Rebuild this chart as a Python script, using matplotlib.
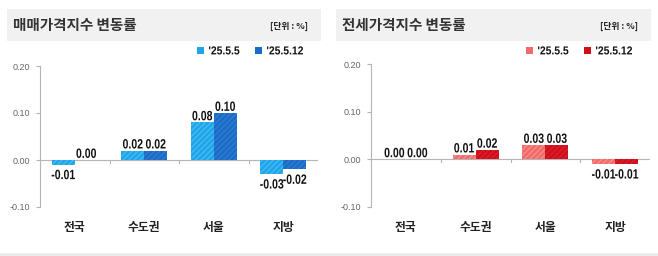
import numpy as np
import matplotlib.pyplot as plt
from matplotlib.patches import Rectangle, PathPatch
from matplotlib.textpath import TextPath
from matplotlib.font_manager import FontProperties
from matplotlib.transforms import Affine2D, ScaledTranslation

plt.rcParams['hatch.linewidth'] = 0.6

categories = ['전국', '수도권', '서울', '지방']
series_names = ["'25.5.5", "'25.5.12"]
sale_may5 = [-0.01, 0.02, 0.08, -0.03]
sale_may12 = [0.00, 0.02, 0.10, -0.02]
jeonse_may5 = [0.00, 0.01, 0.03, -0.01]
jeonse_may12 = [0.00, 0.02, 0.03, -0.01]
yticks = [-0.10, 0.00, 0.10, 0.20]

W, H = 658, 256
kr_font = ['Noto Sans CJK KR', 'DejaVu Sans']
bold_prop = FontProperties(family='Liberation Sans', weight='bold')

fig = plt.figure(figsize=(W / 100, H / 100), dpi=100)
fig.patch.set_facecolor('white')


def px(x0, y0, x1, y1):
    # pixel box (top-left origin) -> figure fraction rect
    return [x0 / W, 1 - y1 / H, (x1 - x0) / W, (y1 - y0) / H]


def narrow_text(owner, trans, x, y, s, size, ha='center', va='bottom', gap=0,
                xscale=0.78, color='#111111'):
    # condensed bold text (like Arial Narrow) drawn as a squeezed path, units = pixels
    tp = TextPath((0, 0), s, size=size, prop=bold_prop)
    bb = tp.get_extents()
    if ha == 'center':
        dx = -(bb.x0 + bb.width / 2)
    elif ha == 'left':
        dx = -bb.x0
    else:
        dx = -bb.x1
    if va == 'bottom':
        dy = -bb.y0 + gap
    elif va == 'top':
        dy = -bb.y1 - gap
    else:
        dy = -(bb.y0 + bb.height / 2)
    tr = Affine2D().translate(dx, dy).scale(xscale, 1) + ScaledTranslation(x, y, trans)
    p = PathPatch(tp, transform=tr, facecolor=color, edgecolor='none', clip_on=False)
    owner.add_artist(p)


# bottom gray strip
fig.add_artist(Rectangle((0, 0), 1, 3.5 / H, transform=fig.transFigure,
                         facecolor='#ececec', edgecolor='none'))


def panel(x0, x1, top, bottom, title, bar_x0, bar_x1, v1, v2, c1, c1h, c2, c2h, leg_x):
    # title bar
    fig.add_artist(Rectangle((bar_x0 / W, 1 - 41 / H), (bar_x1 - bar_x0) / W, 32 / H,
                             transform=fig.transFigure, facecolor='#f1f1f1',
                             edgecolor='none'))
    fig.text((bar_x0 + 6) / W, 1 - 25 / H, title, fontsize=10.5, fontweight='bold',
             color='#333333', family=kr_font, va='center', ha='left')
    fig.text((bar_x1 - 13) / W, 1 - 26 / H, '[단위 : %]', fontsize=6.3,
             fontweight='bold', color='#222222', family=kr_font, va='center', ha='right')
    # legend
    for i, (name, col) in enumerate(zip(series_names, [c1, c2])):
        lx = leg_x[i]
        fig.add_artist(Rectangle((lx / W, 1 - 54 / H), 7 / W, 7 / H,
                                 transform=fig.transFigure, facecolor=col,
                                 edgecolor='none'))
        narrow_text(fig, fig.transFigure, (lx + 12) / W, 1 - 54.5 / H, name, 11.5,
                    ha='left', va='bottom', xscale=0.9)

    ax = fig.add_axes(px(x0, top, x1, bottom))
    n = len(categories)
    x = np.arange(n)
    w = 0.33
    ax.bar(x - w / 2, v1, w, color=c1, linewidth=0)
    ax.bar(x - w / 2, v1, w, facecolor='none', edgecolor=c1h, hatch='//////', linewidth=0)
    ax.bar(x + w / 2, v2, w, color=c2, linewidth=0)
    ax.bar(x + w / 2, v2, w, facecolor='none', edgecolor=c2h, hatch='//////', linewidth=0)

    ax.set_xlim(-0.5, n - 0.5)
    ax.set_ylim(-0.10, 0.20)
    ax.axhline(0, color='#b5b5b5', linewidth=0.8, zorder=0)
    for b in np.arange(0.5, n - 0.5, 1):
        ax.plot([b, b], [0, -0.006], color='#b5b5b5', linewidth=0.8)

    for s in ['top', 'right', 'bottom']:
        ax.spines[s].set_visible(False)
    ax.spines['left'].set_color('#b5b5b5')
    ax.spines['left'].set_linewidth(0.8)
    ax.set_xticks([])
    ax.set_yticks(yticks)
    ax.set_yticklabels(['%.2f' % t for t in yticks], fontsize=6.5, color='#666666',
                       family=['Liberation Sans', 'DejaVu Sans'])
    ax.tick_params(axis='y', length=3, color='#b5b5b5', width=0.8, pad=4)
    ax.patch.set_alpha(0)

    for xs, vals in [(x - w / 2, v1), (x + w / 2, v2)]:
        for xi, v in zip(xs, vals):
            if v < 0:
                narrow_text(ax, ax.transData, xi, v, '%.2f' % v, 13.5, va='top', gap=5)
            else:
                narrow_text(ax, ax.transData, xi, v, '%.2f' % v, 13.5, va='bottom', gap=2)

    lab_y = -(227 - bottom) / (bottom - top)
    for xi, c in zip(x, categories):
        ax.text(xi, lab_y, c, transform=ax.get_xaxis_transform(), ha='center',
                va='center', fontsize=8.5, fontweight='bold', color='#222222',
                family=kr_font)
    return ax


panel(40, 318, 66, 207, '매매가격지수 변동률', 7, 321, sale_may5, sale_may12,
      '#1fa6ea', '#5cc4f5', '#1b6cc6', '#3a86d6', [197, 255])
panel(371, 650, 64, 207, '전세가격지수 변동률', 336, 651, jeonse_may5, jeonse_may12,
      '#f26b6b', '#f9a0a0', '#d10f1a', '#dc2a33', [526, 584])

fig.savefig('out.png', dpi=100)
